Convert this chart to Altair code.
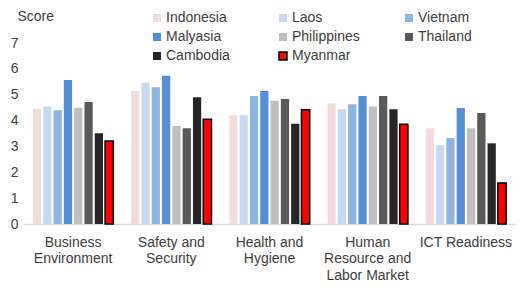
import altair as alt
import pandas as pd

categories = ["Business\nEnvironment", "Safety and\nSecurity", "Health and\nHygiene",
              "Human\nResource and\nLabor Market", "ICT Readiness"]
countries = ["Indonesia", "Laos", "Vietnam", "Malyasia", "Philippines", "Thailand", "Cambodia", "Myanmar"]
colors = ["#F2DCDB", "#C6D9F1", "#8EB4E3", "#558ED5", "#BFBFBF", "#595959", "#262626", "#FF0000"]
strokes = ["transparent"] * 7 + ["#000000"]

indonesia = [4.45, 5.15, 4.21, 4.67, 3.70]
laos = [4.54, 5.46, 4.21, 4.45, 3.05]
vietnam = [4.40, 5.29, 4.95, 4.63, 3.33]
malyasia = [5.57, 5.73, 5.14, 4.95, 4.49]
philippines = [4.50, 3.79, 4.77, 4.54, 3.70]
thailand = [4.72, 3.70, 4.83, 4.95, 4.29]
cambodia = [3.51, 4.90, 3.88, 4.44, 3.12]
myanmar = [3.21, 4.05, 4.42, 3.86, 1.59]

series = [indonesia, laos, vietnam, malyasia, philippines, thailand, cambodia, myanmar]
rows = []
for c, vals in zip(countries, series):
    for cat, v in zip(categories, vals):
        rows.append({"category": cat, "country": c, "score": v})
df = pd.DataFrame(rows)

txt = "#404040"
font = "Liberation Sans"

legend_kw = dict(title=None, orient="none", legendX=126, legendY=-32, direction="horizontal",
                 columns=3, columnPadding=42, rowPadding=5,
                 symbolType="square", symbolSize=64, symbolStrokeWidth=1.5,
                 labelFontSize=14, labelColor=txt, labelFont=font,
                 labelOffset=2, gridAlign="all", padding=0)

chart = alt.Chart(df).mark_bar(strokeWidth=1.5).encode(
    x=alt.X("category:N", sort=categories,
            scale=alt.Scale(paddingInner=0.16, paddingOuter=0.08),
            axis=alt.Axis(title=None, labelAngle=0, ticks=False, domainColor="#D9D9D9",
                          domainWidth=1.5, labelPadding=11, labelFontSize=14, labelColor=txt,
                          labelFont=font, labelLineHeight=16.5, labelBaseline="top",
                          labelExpr="split(datum.label, '\\n')")),
    xOffset=alt.XOffset("country:N", sort=countries,
                        scale=alt.Scale(paddingInner=0.2, paddingOuter=0.1)),
    y=alt.Y("score:Q", scale=alt.Scale(domain=[0, 7], nice=False),
            axis=alt.Axis(values=[0, 1, 2, 3, 4, 5, 6, 7], grid=False, ticks=False, domain=False,
                          labelPadding=6, labelFontSize=14, labelColor=txt, labelFont=font,
                          title="Score", titleAngle=0, titleAlign="left", titleBaseline="middle",
                          titleX=-7, titleY=-27, titleFontSize=14, titleFontWeight="normal",
                          titleColor=txt, titleFont=font)),
    color=alt.Color("country:N", sort=countries, scale=alt.Scale(domain=countries, range=colors),
                    legend=alt.Legend(**legend_kw)),
    stroke=alt.Stroke("country:N", sort=countries, scale=alt.Scale(domain=countries, range=strokes),
                      legend=alt.Legend(**legend_kw)),
).properties(
    width=491, height=181,
    autosize=alt.AutoSizeParams(type="none"),
    padding={"left": 16, "top": 35, "right": 5, "bottom": 60},
).configure_view(stroke=None)

chart.save("out.html", embed_options={"renderer": "svg", "actions": False})
